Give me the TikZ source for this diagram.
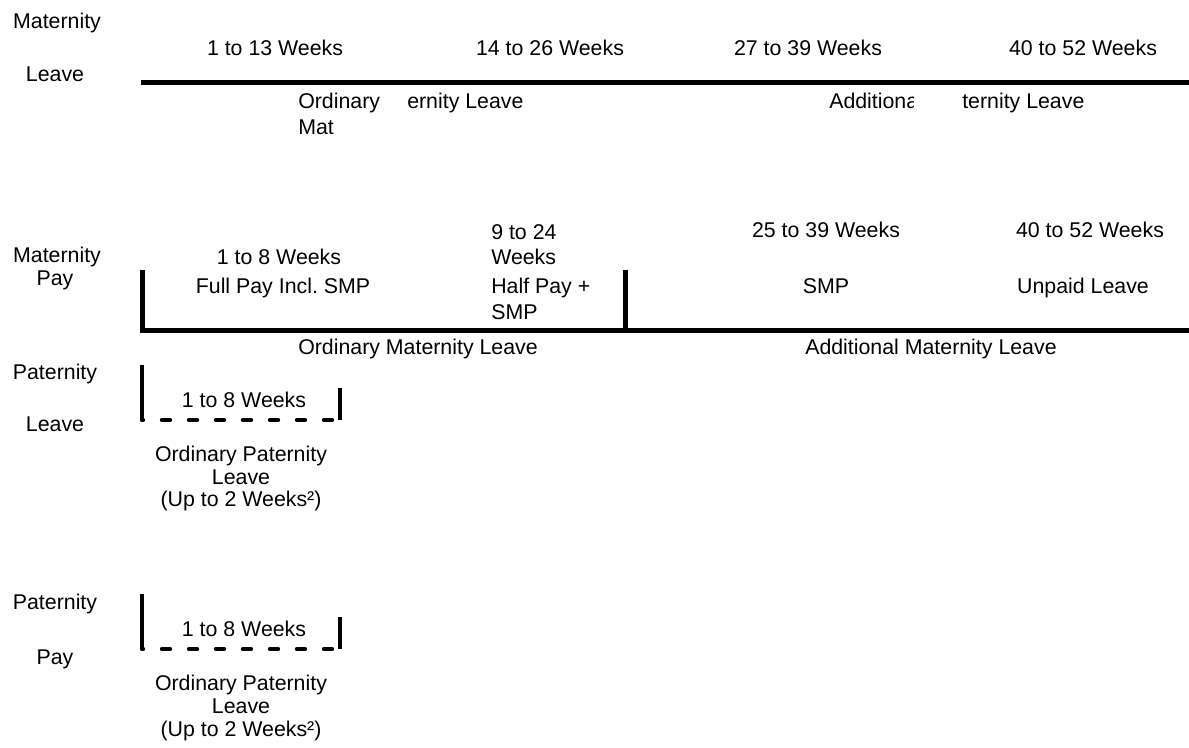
\documentclass[tikz,border=0pt]{standalone}
\usepackage{fontspec}
\setmainfont{Liberation Sans}
\usetikzlibrary{positioning}
\frenchspacing

\begin{document}
\begin{tikzpicture}[x=0.75pt,y=-0.75pt,
  txt/.style={font=\fontsize{16}{19.5}\selectfont,inner sep=0pt,anchor=base},
  lft/.style={txt,anchor=base west},
  bar/.style={line width=3.6pt},
  dotbar/.style={line width=3.3pt,line cap=round,dash pattern=on 6pt off 14.25pt,dash phase=5.25pt}]
\useasboundingbox (0,0) rectangle (1189,748);

% maternity leave
\node[txt] at (57,29) (mlHeadA) {Maternity};
\node[txt] at (55,82) (mlHeadB) {Leave};
\node[txt] at (275,55.5) (mlWkA) {1 to 13 Weeks};
\node[txt] at (550,55.5) (mlWkB) {14 to 26 Weeks};
\node[txt] at (808,55.5) (mlWkC) {27 to 39 Weeks};
\node[txt] at (1083,55.5) (mlWkD) {40 to 52 Weeks};
\coordinate (mlS) at (141,82.5);
\coordinate (mlE) at (1189,82.5);
\draw[bar] (mlS) -- (mlE);
\node[lft] at (298,109) (omlA) {Ordinary};
\node[lft] at (298,135) (omlB) {Mat};
\node[lft] at (407,109) (omlC) {ernity Leave};
\begin{scope}
\clip (820,90) rectangle (913,120);
\node[lft] at (829,109) (amlA) {Additional};
\end{scope}
\node[lft] at (962,109) (amlB) {ternity Leave};

% maternity pay
\node[txt] at (57,263) (mpHeadA) {Maternity};
\node[txt] at (55,286) (mpHeadB) {Pay};
\node[txt] at (279,264.5) (mpWkA) {1 to 8 Weeks};
\node[lft] at (491,239.5) (mpWkB) {9 to 24};
\node[lft] at (491,264.5) (mpWkBb) {Weeks};
\node[txt] at (826,237.5) (mpWkC) {25 to 39 Weeks};
\node[txt] at (1090,237.5) (mpWkD) {40 to 52 Weeks};
\coordinate (mpT) at (142.5,270);
\coordinate (mpC) at (142.5,330.5);
\coordinate (mpE) at (1189,330.5);
\coordinate (mpMidT) at (625.5,270);
\coordinate (mpMidB) at (625.5,330.5);
\draw[bar] (mpT) -- (mpC) -- (mpE);
\draw[bar] (mpMidT) -- (mpMidB);
\node[txt] at (283,294) (mpFull) {Full Pay Incl. SMP};
\node[lft] at (491,294) (mpHalf) {Half Pay +};
\node[lft] at (491,320) (mpHalfb) {SMP};
\node[txt] at (826,294) (mpSmp) {SMP};
\node[txt] at (1083,294) (mpUnpaid) {Unpaid Leave};
\node[lft] at (298,355) (mpOrd) {Ordinary Maternity Leave};
\node[lft] at (805,355) (mpAdd) {Additional Maternity Leave};

% paternity leave
\node[txt] at (55,380) (plHeadA) {Paternity};
\node[txt] at (55,432) (plHeadB) {Leave};
\coordinate (plLT) at (142,365);
\coordinate (plLB) at (142,420);
\coordinate (plRT) at (340,388);
\coordinate (plRB) at (340,420);
\draw[bar] (plLT) -- (plLB);
\draw[dotbar] (plLB) -- (plRB);
\draw[bar] (plRT) -- (plRB);
\node[txt] at (244,407.5) (plWk) {1 to 8 Weeks};
\node[txt] at (241,461) (plOrdA) {Ordinary Paternity};
\node[txt] at (241,484) (plOrdB) {Leave};
\node[txt] at (241,507) (plOrdC) {(Up to 2 Weeks²)};

% paternity pay
\node[txt] at (55,609) (ppHeadA) {Paternity};
\node[txt] at (55,664) (ppHeadB) {Pay};
\coordinate (ppLT) at (142,594);
\coordinate (ppLB) at (142,649);
\coordinate (ppRT) at (340,617);
\coordinate (ppRB) at (340,649);
\draw[bar] (ppLT) -- (ppLB);
\draw[dotbar] (ppLB) -- (ppRB);
\draw[bar] (ppRT) -- (ppRB);
\node[txt] at (244,636.5) (ppWk) {1 to 8 Weeks};
\node[txt] at (241,690) (ppOrdA) {Ordinary Paternity};
\node[txt] at (241,713) (ppOrdB) {Leave};
\node[txt] at (241,736) (ppOrdC) {(Up to 2 Weeks²)};
\end{tikzpicture}
\end{document}
